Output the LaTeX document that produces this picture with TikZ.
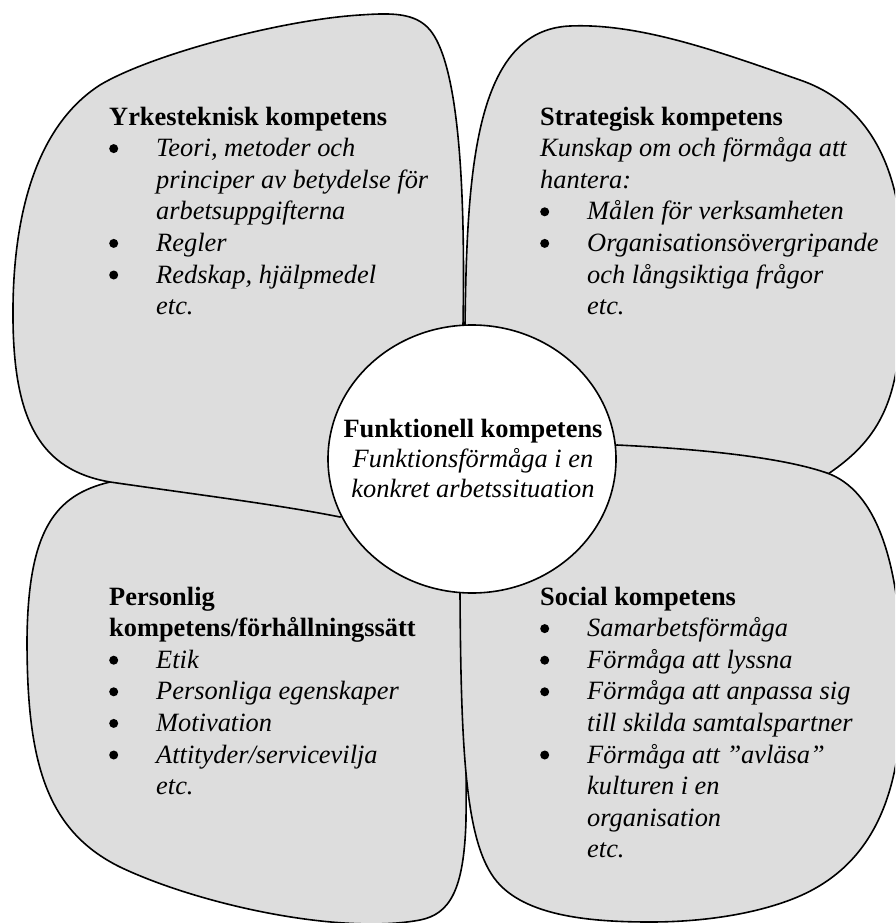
\documentclass[tikz,border=0pt]{standalone}
\usepackage{fontspec}
\setmainfont{Liberation Serif}
\definecolor{petalgray}{RGB}{221,221,221}
\tikzset{
  petal/.style={draw=black, fill=petalgray, line width=1.6pt, line join=round},
  core/.style={draw=black, fill=white, line width=1.6pt},
  petaltext/.style={anchor=base west, inner sep=0pt, font=\fontsize{26.4}{31.6}\selectfont},
  coretext/.style={anchor=base, inner sep=0pt, font=\fontsize{26.4}{30}\selectfont},
}
\newcommand\bdot{\raisebox{3.5pt}{\tikz\fill[black] (0pt,0pt) circle[radius=4.5pt];}}
\newcommand\itm{\makebox[47pt][l]{\bdot}}
\newcommand\hd[1]{\multicolumn{2}{@{}l@{}}{#1}}
\begin{document}
\begin{tikzpicture}[x=1pt,y=-1pt]
\useasboundingbox (0,0) rectangle (895,923);
\clip (0,0) rectangle (895,923);
% bottom-left petal
\path[petal] (200,470) -- (110,482) .. controls (55,495) and (28,530) .. (27,640)
  .. controls (27,760) and (45,830) .. (120,867)
  .. controls (200,905) and (340,935) .. (420,920)
  .. controls (450,914) and (464,890) .. (466,820)
  .. controls (467,700) and (462,640) .. (462,595)
  -- (472,500) -- cycle;
% top-left petal
\path[petal] (340,517) .. controls (280,505) and (200,495) .. (110,482)
  .. controls (40,470) and (14,420) .. (13,320)
  .. controls (12,230) and (30,130) .. (100,85)
  .. controls (150,55) and (280,20) .. (360,15)
  .. controls (390,13) and (415,12) .. (430,30)
  .. controls (455,60) and (466,160) .. (463,325)
  -- (470,460) -- cycle;
% top-right petal
\path[petal] (465,325) .. controls (467,170) and (475,30) .. (570,26)
  .. controls (640,23) and (720,52) .. (800,80)
  .. controls (870,104) and (900,170) .. (902,250)
  .. controls (904,380) and (895,430) .. (825,476)
  -- (700,480) -- (470,460) -- cycle;
% bottom-right petal
\path[petal] (460,593) .. controls (461,760) and (466,850) .. (500,885)
  .. controls (530,916) and (590,922) .. (650,922)
  .. controls (700,922) and (750,915) .. (790,900)
  .. controls (870,870) and (900,800) .. (902,700)
  .. controls (904,560) and (875,490) .. (827,473)
  .. controls (775,455) and (680,448) .. (617,445)
  -- (472,500) -- cycle;
% centre
\path[core] (472,459) ellipse [x radius=144, y radius=134];

\node[petaltext] (yrk) at (109,125) {\begin{tabular}[t]{@{}l@{}l@{}}
\hd{\textbf{Yrkesteknisk kompetens}}\\
\itm & \textit{Teori, metoder och}\\
 & \textit{principer av betydelse för}\\
 & \textit{arbetsuppgifterna}\\
\itm & \textit{Regler}\\
\itm & \textit{Redskap, hjälpmedel}\\
 & \textit{etc.}
\end{tabular}};

\node[petaltext] (strat) at (540,125) {\begin{tabular}[t]{@{}l@{}l@{}}
\hd{\textbf{Strategisk kompetens}}\\
\hd{\textit{Kunskap om och förmåga att}}\\
\hd{\textit{hantera:}}\\
\itm & \textit{Målen för verksamheten}\\
\itm & \textit{Organisationsövergripande}\\
 & \textit{och långsiktiga frågor}\\
 & \textit{etc.}
\end{tabular}};

\node[petaltext] (pers) at (109,605) {\begin{tabular}[t]{@{}l@{}l@{}}
\hd{\textbf{Personlig}}\\
\hd{\textbf{kompetens/förhållningssätt}}\\
\itm & \textit{Etik}\\
\itm & \textit{Personliga egenskaper}\\
\itm & \textit{Motivation}\\
\itm & \textit{Attityder/servicevilja}\\
 & \textit{etc.}
\end{tabular}};

\node[petaltext] (soc) at (540,605) {\begin{tabular}[t]{@{}l@{}l@{}}
\hd{\textbf{Social kompetens}}\\
\itm & \textit{Samarbetsförmåga}\\
\itm & \textit{Förmåga att lyssna}\\
\itm & \textit{Förmåga att anpassa sig}\\
 & \textit{till skilda samtalspartner}\\
\itm & \textit{Förmåga att ”avläsa”}\\
 & \textit{kulturen i en}\\
 & \textit{organisation}\\
 & \textit{etc.}
\end{tabular}};

\node[coretext] (funk) at (473,437) {\begin{tabular}[t]{@{}c@{}}
\textbf{Funktionell kompetens}\\
\textit{Funktionsförmåga i en}\\
\textit{konkret arbetssituation}
\end{tabular}};
\end{tikzpicture}
\end{document}
